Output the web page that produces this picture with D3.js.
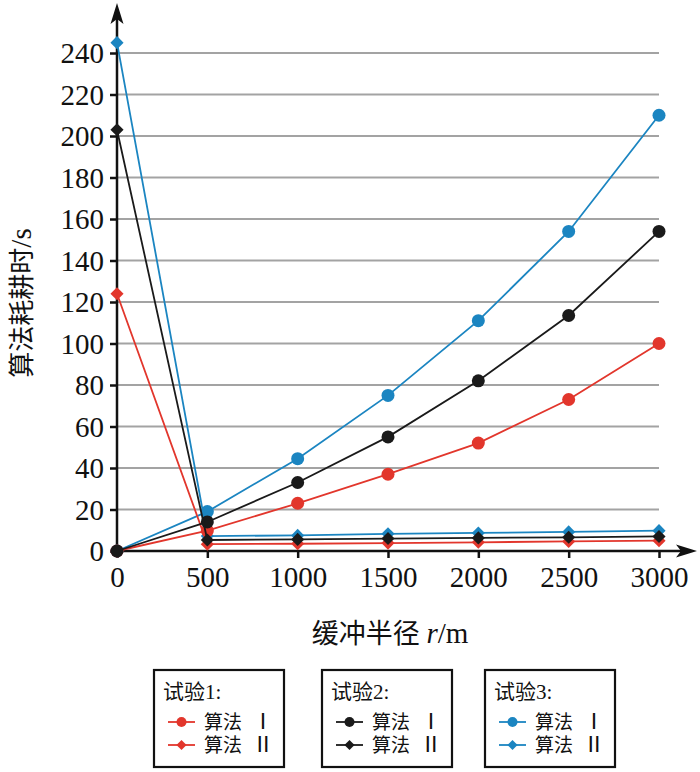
<!DOCTYPE html>
<html>
<head>
<meta charset="utf-8">
<script src="https://cdn.jsdelivr.net/npm/d3@7"></script>
<style>
  html, body { margin: 0; padding: 0; background: #fff; }
  svg { display: block; }
  text { font-family: "Liberation Serif", "Noto Sans CJK SC", serif; fill: #111; }
</style>
</head>
<body>
<div id="chart"></div>
<script>
"use strict";

// buffer radius r (m)
var radii = [0, 500, 1000, 1500, 2000, 2500, 3000];
var yTicks = [0, 20, 40, 60, 80, 100, 120, 140, 160, 180, 200, 220, 240];

// algorithm time (s)
var trial1AlgI  = [0, 9.8, 23, 37, 52, 73, 100];
var trial1AlgII = [124, 3.3, 3.5, 3.8, 4.2, 4.6, 5];
var trial2AlgI  = [0, 14, 33, 55, 82, 113.5, 154];
var trial2AlgII = [203, 5.3, 5.6, 6, 6.3, 6.6, 7];
var trial3AlgI  = [0, 19, 44.5, 75, 111, 154, 210];
var trial3AlgII = [245, 7.2, 7.5, 8.3, 8.7, 9.2, 9.8];

var trialNames = ["试验1:", "试验2:", "试验3:"];
var algNames = ["算法", "算法"];
var algNums = ["Ⅰ", "Ⅱ"];
var colors = ["#e2362c", "#1a1a1a", "#1b85c1"];

// draw order: blue, red, black so the black point sits on top at the origin
var series = [
  { trial: 2, alg: 0, values: trial3AlgI },
  { trial: 2, alg: 1, values: trial3AlgII },
  { trial: 0, alg: 0, values: trial1AlgI },
  { trial: 0, alg: 1, values: trial1AlgII },
  { trial: 1, alg: 0, values: trial2AlgI },
  { trial: 1, alg: 1, values: trial2AlgII }
];

var W = 700, H = 772;
var svg = d3.select("#chart").append("svg")
  .attr("width", W).attr("height", H);

var x = d3.scaleLinear().domain([0, 3000]).range([117, 659]);
var y = d3.scaleLinear().domain([0, 240]).range([551, 53]);

// grid
svg.append("g").selectAll("line")
  .data(yTicks.slice(1))
  .enter().append("line")
  .attr("x1", x(0)).attr("x2", x(3000))
  .attr("y1", d => y(d)).attr("y2", d => y(d))
  .attr("stroke", "#a3a3a3").attr("stroke-width", 2);

// axes (ticks + labels), domain paths drawn by hand for the arrows
var yAxis = d3.axisLeft(y).tickValues(yTicks).tickSize(7).tickPadding(6).tickFormat(d3.format("d"));
var gy = svg.append("g").attr("transform", "translate(" + x(0) + ",0)").call(yAxis);
var xAxis = d3.axisBottom(x).tickValues(radii).tickSize(7).tickPadding(8).tickFormat(d3.format("d"));
var gx = svg.append("g").attr("transform", "translate(0," + y(0) + ")").call(xAxis);

[gy, gx].forEach(function (g) {
  g.select(".domain").remove();
  g.selectAll(".tick line").attr("stroke", "#111").attr("stroke-width", 2.5);
  g.selectAll(".tick text").style("font-size", "29px").attr("fill", "#111");
});
gy.selectAll(".tick text").attr("dy", "0.34em");

svg.append("line")
  .attr("x1", x(0)).attr("x2", x(0)).attr("y1", y(0) + 1).attr("y2", 14)
  .attr("stroke", "#111").attr("stroke-width", 2.5);
svg.append("path")
  .attr("d", "M" + x(0) + ",3 L" + (x(0) - 6.5) + ",24 L" + x(0) + ",19 L" + (x(0) + 6.5) + ",24 Z")
  .attr("fill", "#111");
svg.append("line")
  .attr("x1", x(0) - 1).attr("x2", 686).attr("y1", y(0)).attr("y2", y(0))
  .attr("stroke", "#111").attr("stroke-width", 2.5);
svg.append("path")
  .attr("d", "M697," + y(0) + " L676," + (y(0) - 6.5) + " L681," + y(0) + " L676," + (y(0) + 6.5) + " Z")
  .attr("fill", "#111");

// axis titles
var yt = svg.append("text")
  .attr("transform", "translate(31,303) rotate(-90)")
  .attr("text-anchor", "middle")
  .style("font-size", "26px");
yt.append("tspan").text("算法耗耕时");
yt.append("tspan").style("font-size", "29px").text("/s");

var xt = svg.append("text")
  .attr("x", 390).attr("y", 643)
  .attr("text-anchor", "middle")
  .style("font-size", "27px");
xt.append("tspan").text("缓冲半径 ");
xt.append("tspan").style("font-style", "italic").style("font-size", "29px").text("r");
xt.append("tspan").style("font-size", "29px").text("/m");

// lines + markers
var line = d3.line()
  .x((d, i) => x(radii[i]))
  .y(d => y(d));

var diamond = d3.symbol().type(d3.symbolDiamond2);

function drawMarker(g, alg, color, cx, cy, size) {
  if (alg === 0) {
    g.append("circle").attr("cx", cx).attr("cy", cy).attr("r", size)
      .attr("fill", color);
  } else {
    g.append("path")
      .attr("d", diamond.size(size * size * 2.6)())
      .attr("transform", "translate(" + cx + "," + cy + ")")
      .attr("fill", color);
  }
}

var plot = svg.append("g");
series.forEach(function (s) {
  var g = plot.append("g");
  g.append("path")
    .attr("d", line(s.values))
    .attr("fill", "none")
    .attr("stroke", colors[s.trial])
    .attr("stroke-width", 1.8);
  s.values.forEach(function (v, i) {
    drawMarker(g, s.alg, colors[s.trial], x(radii[i]), y(v), 6.5);
  });
});

// legend boxes
var legendX = [154, 322, 485];
trialNames.forEach(function (name, t) {
  var g = svg.append("g").attr("transform", "translate(" + legendX[t] + ",670)");
  g.append("rect")
    .attr("width", 130).attr("height", 97)
    .attr("fill", "#fff").attr("stroke", "#111").attr("stroke-width", 2.2);
  g.append("text").attr("x", 9).attr("y", 29)
    .style("font-size", "21px").text(name);
  algNames.forEach(function (a, k) {
    var cy = 52 + k * 23;
    g.append("line").attr("x1", 14).attr("x2", 41).attr("y1", cy).attr("y2", cy)
      .attr("stroke", colors[t]).attr("stroke-width", 1.8);
    drawMarker(g, k, colors[t], 27.5, cy, 5);
    var lt = g.append("text").attr("x", 50).attr("y", cy + 7)
      .style("font-size", "19px");
    lt.append("tspan").text(a);
    lt.append("tspan").attr("dx", 10).style("font-size", "22px").text(algNums[k]);
  });
});
</script>
</body>
</html>
